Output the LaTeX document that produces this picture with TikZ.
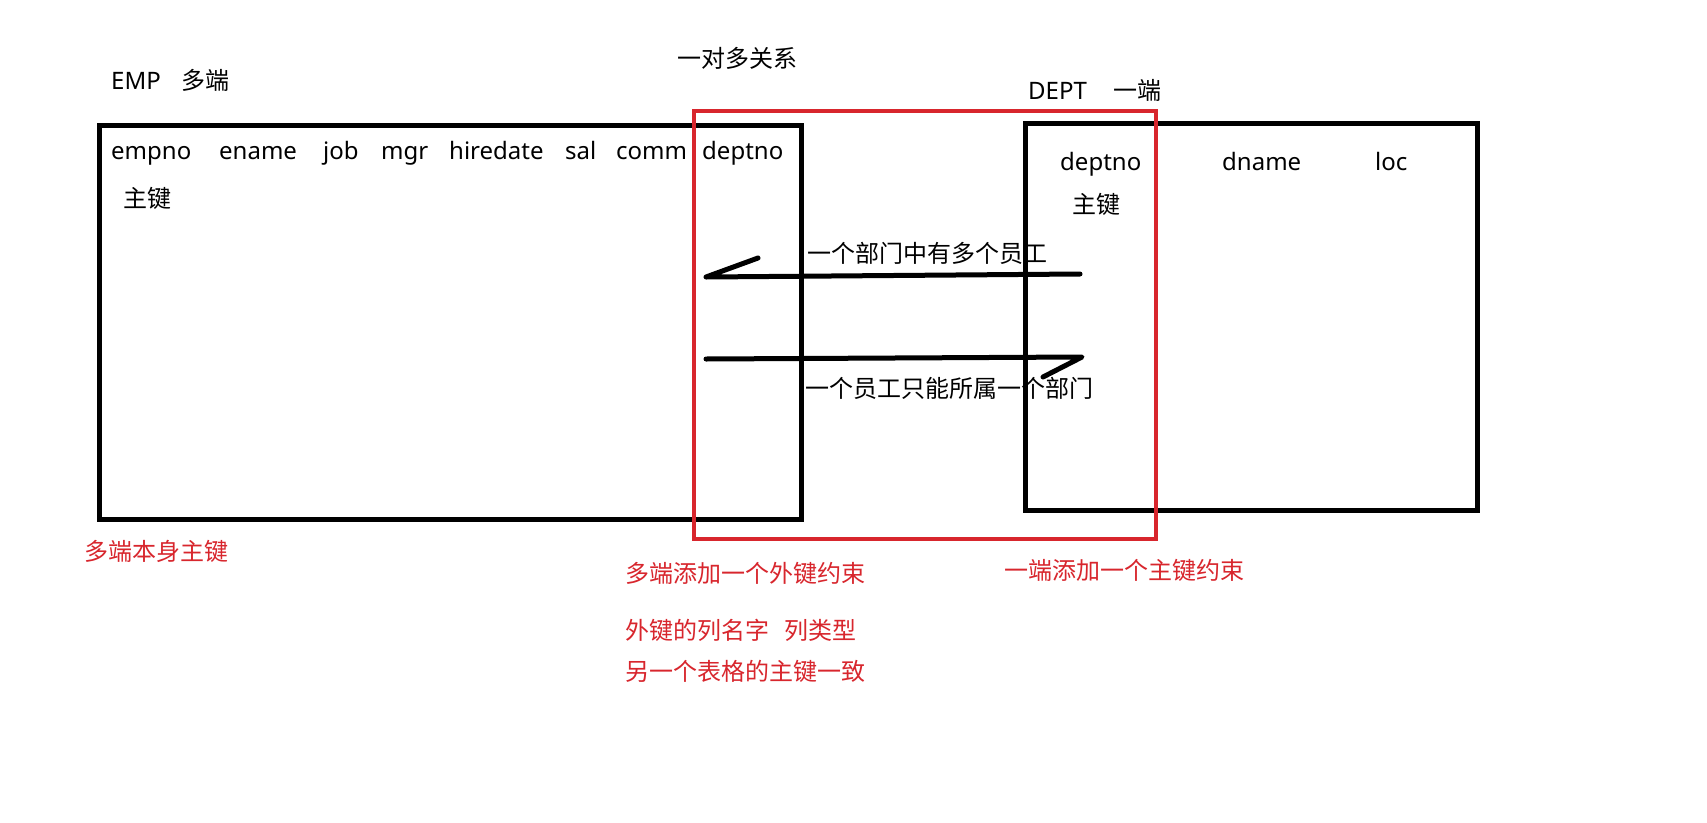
\documentclass[tikz,border=0pt]{standalone}
\usepackage{fontspec}
\setmainfont{Noto Sans}
\newfontfamily\cjk{Noto Sans CJK SC}
\definecolor{myred}{RGB}{216,38,45}
\tikzset{
  tablebox/.style={draw=black, line width=5pt, inner sep=0pt},
  redframe/.style={draw=myred, line width=4pt, inner sep=0pt},
  lat/.style={font=\fontsize{24}{28}\selectfont, inner sep=0pt, anchor=base west},
  zh/.style={font=\cjk\fontsize{24}{28}\selectfont, inner sep=0pt, anchor=west},
  zhred/.style={zh, text=myred},
  stroke/.style={line width=5pt, line cap=round, line join=round}
}
\begin{document}
\begin{tikzpicture}[x=1pt,y=-1pt]
\useasboundingbox[fill=white] (0,0) rectangle (1707,822);
% tables
\node[tablebox, minimum width=702pt, minimum height=394pt] (emp) at (450.5,322) {};
\node[tablebox, minimum width=452pt, minimum height=387pt] (dept) at (1251,316.5) {};
% titles
\node[lat] (empt) at (111,89) {EMP\hspace{21pt}{\cjk 多端}};
\node[zh] (rel) at (677,58) {一对多关系};
\node[lat] (deptt) at (1028,99) {DEPT\hspace{27pt}{\cjk 一端}};
% EMP columns
\node[lat] (c1) at (111,159) {empno};
\node[lat] (c2) at (219,159) {ename};
\node[lat] (c3) at (323,159) {job};
\node[lat] (c4) at (381,159) {mgr};
\node[lat] (c5) at (449,159) {hiredate};
\node[lat] (c6) at (565,159) {sal};
\node[lat] (c7) at (616,159) {comm};
\node[lat] (c8) at (702,159) {deptno};
\node[zh] (pk1) at (123,198) {主键};
% DEPT columns
\node[lat] (d1) at (1060,170) {deptno};
\node[lat] (d2) at (1222,170) {dname};
\node[lat] (d3) at (1375,170) {loc};
\node[zh] (pk2) at (1072,204) {主键};
% relation strokes
\coordinate (a1) at (706,277);
\coordinate (a2) at (1080,274);
\coordinate (at) at (758,258);
\coordinate (b1) at (706,359);
\coordinate (b2) at (1082,357);
\coordinate (bt) at (1043,377);
\draw[stroke] (at) -- (a1) -- (a2);
\draw[stroke] (b1) -- (b2) -- (bt);
\node[zh] (l1) at (807,253) {一个部门中有多个员工};
\node[zh] (l2) at (805,388) {一个员工只能所属一个部门};
% red frame
\node[redframe, minimum width=462pt, minimum height=428pt] (fk) at (925,324.5) {};
% red notes
\node[zhred] (n1) at (84,551) {多端本身主键};
\node[zhred] (n2) at (625,573) {多端添加一个外键约束};
\node[zhred] (n3) at (1004,570) {一端添加一个主键约束};
\node[zhred] (n4) at (625,630) {外键的列名字\hspace{15pt}列类型};
\node[zhred] (n5) at (625,671) {另一个表格的主键一致};
\end{tikzpicture}
\end{document}
